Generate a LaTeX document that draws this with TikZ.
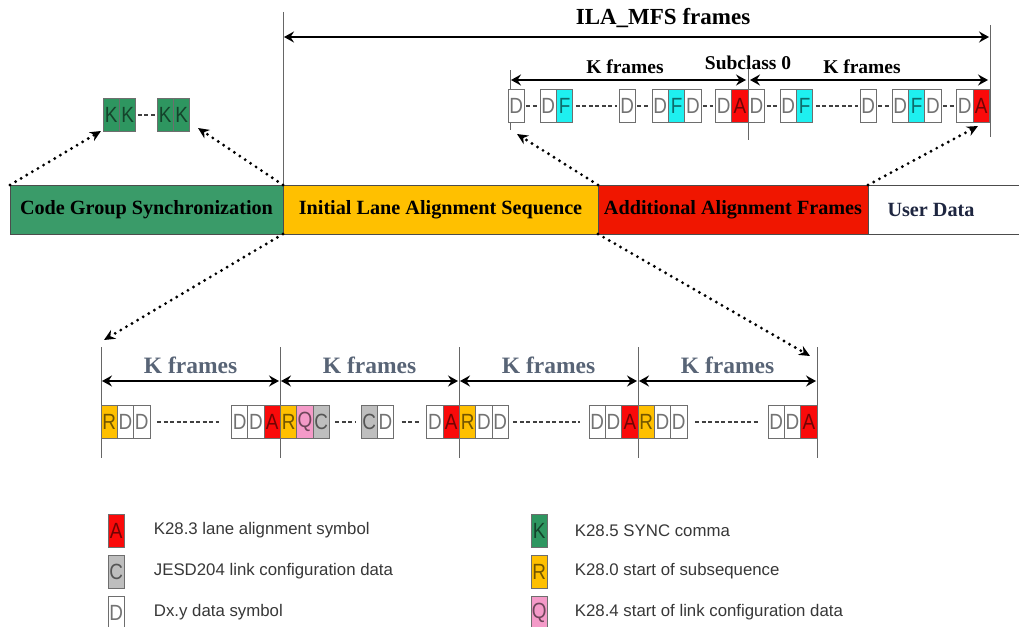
\documentclass[tikz,border=0pt]{standalone}
\usepackage{fontspec}
\usepackage{graphicx}
\setmainfont{Liberation Serif}
\newfontfamily\arialf{Liberation Sans}
\usetikzlibrary{arrows.meta}
\definecolor{cgsgreen}{RGB}{58,155,105}
\definecolor{kgreen}{RGB}{46,150,96}
\definecolor{ilayellow}{RGB}{255,192,0}
\definecolor{aafred}{RGB}{240,22,0}
\definecolor{redA}{RGB}{250,10,10}
\definecolor{cyanF}{RGB}{30,240,240}
\definecolor{pinkQ}{RGB}{244,154,200}
\definecolor{grayC}{RGB}{190,190,190}
\definecolor{boxgray}{RGB}{110,110,110}
\definecolor{kfblue}{RGB}{88,100,118}
\definecolor{navy}{RGB}{30,38,64}
\definecolor{legtxt}{RGB}{55,55,55}
\newcommand\symb[5]{\node[symbox,fill=#4] (#1) at (#2,#3) {\scalebox{0.86}[1]{#5}};}
\begin{document}
\begin{tikzpicture}[x=1pt,y=-1pt,
  symbox/.style={draw=boxgray, line width=1pt, minimum width=16.4pt, minimum height=33pt,
    inner sep=0pt, outer sep=0pt, anchor=north west, text=black, text opacity=0.55,
    font=\arialf\fontsize{22}{22}\selectfont},
  barbox/.style={draw=black!70, line width=0.9pt, minimum height=49pt, inner sep=0pt,
    outer sep=0pt, anchor=north west, font=\bfseries\fontsize{20.2}{20.2}\selectfont},
  bigarrow/.style={line width=2.8pt,
    {Stealth[length=10pt,width=11pt,inset=3.5pt]}-{Stealth[length=10pt,width=11pt,inset=3.5pt]}},
  dotarrow/.style={line width=3.2pt, line cap=round, dash pattern=on 0pt off 6.5pt,
    -{Stealth[length=11pt,width=10pt]}},
  tickline/.style={draw=black!60, line width=1pt},
  dashline/.style={draw=black!75, line width=2pt, dash pattern=on 4pt off 2.5pt},
  toplabel/.style={font=\bfseries\fontsize{19.5}{19.5}\selectfont},
  kflabel/.style={font=\bfseries\fontsize{23.5}{23.5}\selectfont, text=kfblue},
  legtext/.style={anchor=west, text=legtxt, font=\arialf\fontsize{16.8}{16.8}\selectfont}
]
\useasboundingbox (0,0) rectangle (1019,626);

% ---------------- main bar ----------------
\node[barbox, fill=cgsgreen, minimum width=273pt] (cgs) at (10,185) {Code Group Synchronization};
\node[barbox, fill=ilayellow, minimum width=315pt] (ilas) at (283,185) {Initial Lane Alignment Sequence};
\node[barbox, fill=aafred, minimum width=270pt] (aaf) at (598,185) {Additional Alignment Frames};
\node[barbox, fill=white, minimum width=153pt] (ud) at (868,185) {};
\node[anchor=west, text=navy, font=\bfseries\fontsize{20.2}{20.2}\selectfont] (udl) at ([xshift=16pt]ud.west) {User Data};

% ---------------- ILA_MFS frames ----------------
\coordinate (ilaTop) at (283,12);
\coordinate (ilaRTop) at (990,25);
\coordinate (ilaRBot) at (990,137);
\draw[tickline] (ilaTop) -- (ilas.north west);
\draw[tickline] (ilaRTop) -- (ilaRBot);
\coordinate (ilaA) at (284,37);
\coordinate (ilaB) at (989,37);
\draw[bigarrow] (ilaA) -- (ilaB);
\node[font=\bfseries\fontsize{23}{23}\selectfont] (ilaT) at (663,18) {ILA\_MFS frames};

% ---------------- upper K frames ----------------
\coordinate (uT1a) at (510,70); \coordinate (uT1b) at (510,130);
\coordinate (uT2a) at (748,55); \coordinate (uT2b) at (748,140);
\draw[tickline] (uT1a) -- (uT1b);
\draw[tickline] (uT2a) -- (uT2b);
\coordinate (ua1) at (511,80); \coordinate (ua2) at (746,80);
\coordinate (ua3) at (750,80); \coordinate (ua4) at (988,80);
\draw[bigarrow] (ua1) -- (ua2);
\draw[bigarrow] (ua3) -- (ua4);
\node[toplabel] (ukf1) at (625,67) {K frames};
\node[toplabel] (usub) at (748,63) {Subclass 0};
\node[toplabel] (ukf2) at (862,67) {K frames};

\symb{u1}{508}{89}{white}{D}
\symb{u2}{540}{89}{white}{D}
\symb{u3}{556.4}{89}{cyanF}{F}
\symb{u4}{619}{89}{white}{D}
\symb{u5}{652}{89}{white}{D}
\symb{u6}{668.4}{89}{cyanF}{F}
\symb{u7}{684.8}{89}{white}{D}
\symb{u8}{715.4}{89}{white}{D}
\symb{u9}{731.8}{89}{redA}{A}
\symb{v1}{748.2}{89}{white}{D}
\symb{v2}{780}{89}{white}{D}
\symb{v3}{796.4}{89}{cyanF}{F}
\symb{v4}{860}{89}{white}{D}
\symb{v5}{892}{89}{white}{D}
\symb{v6}{908.4}{89}{cyanF}{F}
\symb{v7}{924.8}{89}{white}{D}
\symb{v8}{956.6}{89}{white}{D}
\symb{v9}{973}{89}{redA}{A}
\draw[dashline] ([xshift=2pt]u1.east) -- ([xshift=-2pt]u2.west);
\draw[dashline] ([xshift=3pt]u3.east) -- ([xshift=-2pt]u4.west);
\draw[dashline] ([xshift=2pt]u4.east) -- ([xshift=-2pt]u5.west);
\draw[dashline] ([xshift=2pt]u7.east) -- ([xshift=-2pt]u8.west);
\draw[dashline] ([xshift=2pt]v1.east) -- ([xshift=-2pt]v2.west);
\draw[dashline] ([xshift=3pt]v3.east) -- ([xshift=-2pt]v4.west);
\draw[dashline] ([xshift=2pt]v4.east) -- ([xshift=-2pt]v5.west);
\draw[dashline] ([xshift=2pt]v7.east) -- ([xshift=-2pt]v8.west);

% ---------------- K K group ----------------
\symb{k1}{103}{98}{kgreen}{K}
\symb{k2}{119.4}{98}{kgreen}{K}
\symb{k3}{157}{98}{kgreen}{K}
\symb{k4}{173.4}{98}{kgreen}{K}
\draw[dashline] ([xshift=2pt]k2.east) -- ([xshift=-2pt]k3.west);

% ---------------- dotted arrows ----------------
\coordinate (kkL) at (101,131);
\coordinate (kkR) at (198,128);
\coordinate (upL) at (517,134);
\coordinate (upR) at (978,126);
\coordinate (loL) at (104,340);
\coordinate (loR) at (810,356);
\draw[dotarrow] (cgs.north west) -- (kkL);
\draw[dotarrow] (cgs.north east) -- (kkR);
\draw[dotarrow] (aaf.north west) -- (upL);
\draw[dotarrow] (ud.north west) -- (upR);
\draw[dotarrow] (ilas.south west) -- (loL);
\draw[dotarrow] (aaf.south west) -- (loR);

% ---------------- lower K frames ----------------
\foreach \i/\x in {0/101,1/280,2/459,3/638,4/817}{
  \coordinate (lt\i a) at (\x,347);
  \coordinate (lt\i b) at (\x,458);
  \coordinate (la\i) at (\x,381);
  \draw[tickline] (lt\i a) -- (lt\i b);
}
\foreach \i/\j in {0/1,1/2,2/3,3/4}{
  \draw[bigarrow] ([xshift=1pt]la\i) -- ([xshift=-1pt]la\j);
}
\node[kflabel] (lkf1) at (190.5,365) {K frames};
\node[kflabel] (lkf2) at (369.5,365) {K frames};
\node[kflabel] (lkf3) at (548.5,365) {K frames};
\node[kflabel] (lkf4) at (727.5,365) {K frames};

\symb{b1}{101}{405}{ilayellow}{R}
\symb{b2}{117.3}{405}{white}{D}
\symb{b3}{133.6}{405}{white}{D}
\symb{b4}{231.5}{405}{white}{D}
\symb{b5}{247.8}{405}{white}{D}
\symb{b6}{264.1}{405}{redA}{A}
\symb{b7}{280.4}{405}{ilayellow}{R}
\symb{b8}{296.7}{405}{pinkQ}{Q}
\symb{b9}{313}{405}{grayC}{C}
\symb{b10}{361}{405}{grayC}{C}
\symb{b11}{377.3}{405}{white}{D}
\symb{b12}{426.8}{405}{white}{D}
\symb{b13}{443.1}{405}{redA}{A}
\symb{b14}{459.4}{405}{ilayellow}{R}
\symb{b15}{475.7}{405}{white}{D}
\symb{b16}{492}{405}{white}{D}
\symb{b17}{589}{405}{white}{D}
\symb{b18}{605.3}{405}{white}{D}
\symb{b19}{621.6}{405}{redA}{A}
\symb{b20}{638}{405}{ilayellow}{R}
\symb{b21}{654.3}{405}{white}{D}
\symb{b22}{670.6}{405}{white}{D}
\symb{b23}{768}{405}{white}{D}
\symb{b24}{784.3}{405}{white}{D}
\symb{b25}{800.6}{405}{redA}{A}
\draw[dashline] ([xshift=7pt]b3.east) -- ([xshift=-13pt]b4.west);
\draw[dashline] ([xshift=6pt]b9.east) -- ([xshift=-6pt]b10.west);
\draw[dashline] ([xshift=8pt]b11.east) -- ([xshift=-7pt]b12.west);
\draw[dashline] ([xshift=5pt]b16.east) -- ([xshift=-9pt]b17.west);
\draw[dashline] ([xshift=8pt]b22.east) -- ([xshift=-10pt]b23.west);

% ---------------- legend ----------------
\symb{lA}{108}{514}{redA}{A}
\symb{lC}{108}{555}{grayC}{C}
\symb{lD}{108}{596}{white}{D}
\symb{lK}{531}{514}{kgreen}{K}
\symb{lR}{531}{555}{ilayellow}{R}
\symb{lQ}{531}{596}{pinkQ}{Q}
\node[legtext] (tA) at ([xshift=26pt]lA.east) {K28.3 lane alignment symbol};
\node[legtext] (tC) at ([xshift=26pt]lC.east) {JESD204 link configuration data};
\node[legtext] (tD) at ([xshift=26pt]lD.east) {Dx.y data symbol};
\node[legtext] (tK) at ([xshift=24pt]lK.east) {K28.5 SYNC comma};
\node[legtext] (tR) at ([xshift=24pt]lR.east) {K28.0 start of subsequence};
\node[legtext] (tQ) at ([xshift=24pt]lQ.east) {K28.4 start of link configuration data};
\end{tikzpicture}
\end{document}
